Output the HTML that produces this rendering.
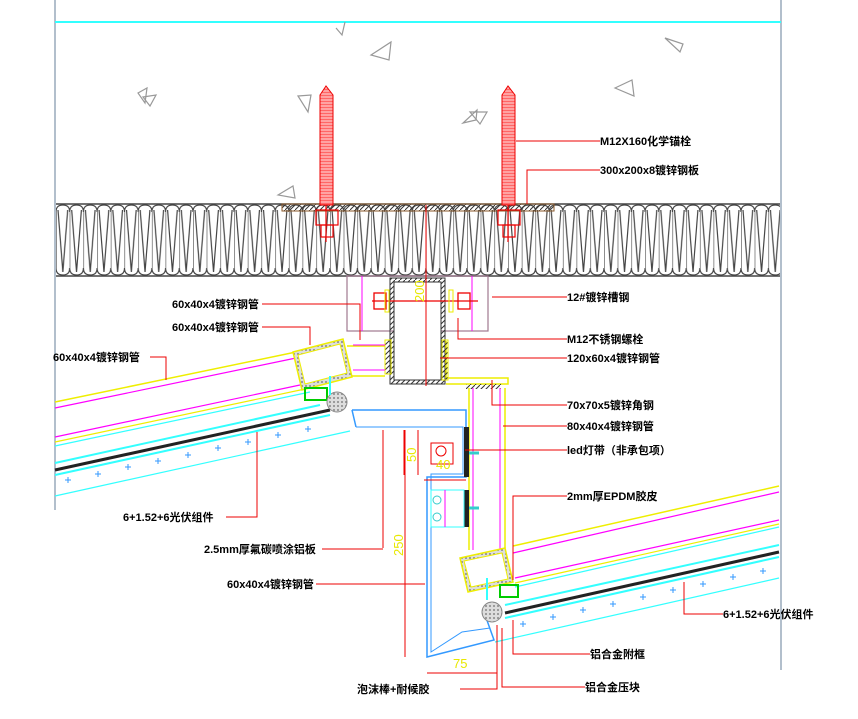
<!DOCTYPE html>
<html><head><meta charset="utf-8"><style>
html,body{margin:0;padding:0;background:#fff;}
svg{display:block}
text{font-family:"Liberation Sans","Noto Sans CJK SC",sans-serif;font-size:11px;font-weight:bold;fill:#000}
.d{font-size:13px;font-weight:normal;fill:#e8e800}
</style></head><body>
<svg width="858" height="719" viewBox="0 0 858 719" xmlns="http://www.w3.org/2000/svg">
<defs>
<pattern id="ins" x="56" y="204" width="13.7" height="72" patternUnits="userSpaceOnUse">
<path d="M0,8 Q0,1 6.85,1 Q13.7,1 13.7,8 M0,64 Q0,71 6.85,71 Q13.7,71 13.7,64 M0,8 L0,64 M2,6 L6.85,68 L11.7,6" fill="none" stroke="#444" stroke-width="1.2"/>
</pattern>
<pattern id="hat" width="5" height="5" patternUnits="userSpaceOnUse"><path d="M0,5 L5,0" stroke="#333" stroke-width="1"/></pattern>
<pattern id="thr" width="13" height="3" patternUnits="userSpaceOnUse"><rect width="13" height="3" fill="#f66"/><line x1="0" y1="1" x2="13" y2="1" stroke="#fff" stroke-width="0.8"/></pattern>
<pattern id="dots" width="4" height="4" patternUnits="userSpaceOnUse"><rect width="4" height="4" fill="#ddd"/><circle cx="2" cy="2" r="1" fill="#888"/></pattern>
</defs>
<!-- borders -->
<line x1="55" y1="0" x2="55" y2="510" stroke="#9ab" stroke-width="1.5"/>
<line x1="781" y1="0" x2="781" y2="670" stroke="#9ab" stroke-width="1.5"/>
<line x1="55" y1="22" x2="781" y2="22" stroke="#3ff" stroke-width="2"/>
<!-- concrete triangles -->
<g fill="none" stroke="#999" stroke-width="1.2">
<path d="M336,28 L342,35 L345,22"/><path d="M371,55 L391,42 L389,60Z"/><path d="M665,38 L683,44 L680,52Z"/>
<path d="M615,88 L632,80 L634,96Z"/><path d="M298,96 L311,95 L308,112Z"/><path d="M463,123 L476,120 L477,110Z"/>
<path d="M470,112 L487,112 L480,124Z"/><path d="M138,93 L147,88 L145,103Z"/><path d="M143,97 L156,95 L150,106Z"/>
<path d="M278,195 L293,186 L295,198Z"/>
</g>
<!-- insulation -->
<rect x="56" y="204" width="724" height="72" fill="url(#ins)"/>
<line x1="56" y1="204" x2="780" y2="204" stroke="#444" stroke-width="1.5"/>
<line x1="56" y1="276" x2="780" y2="276" stroke="#444" stroke-width="1.5"/>
<!-- plate -->
<rect x="282" y="204" width="272" height="7" fill="url(#hat)" stroke="#8b5a2b" stroke-width="1"/>
<!-- anchors -->
<g fill="url(#thr)" stroke="#e00" stroke-width="1">
<path d="M320,95 L326,86 L333,95 L333,205 L320,205Z"/>
<path d="M502,95 L508,86 L515,95 L515,205 L502,205Z"/>
</g>
<g stroke="#e00" fill="none" stroke-width="1.2"><rect x="316" y="210" width="22" height="15"/><rect x="498" y="210" width="22" height="15"/>
<rect x="321" y="225" width="12" height="12"/><rect x="503" y="225" width="12" height="12"/>
<line x1="326" y1="205" x2="326" y2="242"/><line x1="508" y1="205" x2="508" y2="242"/></g>
<!-- bracket -->
<rect x="347" y="276" width="141" height="55" fill="none" stroke="#a07890" stroke-width="1.2"/>
<line x1="362" y1="276" x2="362" y2="331" stroke="#f0f" stroke-width="1"/>
<line x1="472" y1="276" x2="472" y2="331" stroke="#f0f" stroke-width="1"/>
<!-- tube 120x60 -->
<rect x="390" y="278" width="55" height="106" fill="url(#hat)" stroke="#333"/>
<rect x="394" y="282" width="47" height="98" fill="#fff" stroke="#333"/>
<!-- bolt -->
<g stroke="#e00" fill="none" stroke-width="1.3"><line x1="372" y1="301" x2="478" y2="301"/><rect x="374" y="293" width="12" height="16"/><rect x="458" y="293" width="12" height="16"/></g>
<rect x="385" y="290" width="4" height="22" fill="none" stroke="#ee0"/><rect x="449" y="290" width="4" height="22" fill="none" stroke="#ee0"/>
<line x1="426" y1="205" x2="426" y2="386" stroke="#e00"/>
<text class="d" transform="translate(424,302) rotate(-90)">200</text>
<!-- angle steel -->
<path d="M446,341 L446,378 L508,378 L508,384 L446,384" fill="none" stroke="#ee0" stroke-width="1.5"/>
<rect x="466" y="384" width="35" height="5" fill="url(#hat)"/>
<line x1="469" y1="388" x2="469" y2="550" stroke="#ee0" stroke-width="1.5"/><line x1="505" y1="388" x2="505" y2="548" stroke="#ee0" stroke-width="1.5"/>
<line x1="473" y1="388" x2="473" y2="550" stroke="#f0f"/><line x1="500" y1="388" x2="500" y2="550" stroke="#f0f"/>
<rect x="442" y="340" width="6" height="40" fill="url(#hat)" stroke="#ee0"/>
<rect x="385" y="340" width="6" height="34" fill="url(#hat)" stroke="#ee0"/>
<!-- left connecting tube -->
<path d="M347,346 L385,346 M347,376 L385,376" stroke="#ee0" stroke-width="1.5"/>
<path d="M353,345 L385,345 M353,370 L385,370" stroke="#f0f"/>
<!-- left panel -->
<g fill="none">
<line x1="55" y1="402" x2="296" y2="352" stroke="#ee0" stroke-width="1.5"/>
<line x1="55" y1="408" x2="296" y2="358" stroke="#f0f" stroke-width="1.2"/>
<line x1="55" y1="437" x2="300" y2="385" stroke="#f0f" stroke-width="1.2"/>
<line x1="55" y1="442" x2="305" y2="389" stroke="#ee0" stroke-width="1.2"/>
<line x1="55" y1="446" x2="310" y2="392" stroke="#3ff" stroke-width="1.2"/>
<line x1="55" y1="463" x2="320" y2="405" stroke="#3ff" stroke-width="2"/>
<line x1="55" y1="470" x2="330" y2="410" stroke="#222" stroke-width="3"/>
<line x1="55" y1="475" x2="330" y2="415" stroke="#3ff" stroke-width="2"/>
<line x1="55" y1="496" x2="350" y2="431" stroke="#3ff" stroke-width="1.2"/>
</g>
<g stroke="#39f" stroke-width="1"><path d="M65,480h6M68,477v6M95,474h6M98,471v6M125,467h6M128,464v6M155,461h6M158,458v6M185,455h6M188,452v6M215,448h6M218,445v6M245,442h6M248,439v6M275,435h6M278,432v6M305,429h6M308,426v6"/></g>
<!-- left 60x40 tube -->
<path d="M293,352 L343,339 L352,377 L302,390Z" fill="url(#dots)" stroke="#ee0" stroke-width="1.5"/>
<path d="M298,355 L340,344 L347,373 L305,384Z" fill="#fff" stroke="#ee0"/>
<rect x="305" y="388" width="22" height="12" fill="none" stroke="#0c0" stroke-width="2"/>
<circle cx="337" cy="402" r="10" fill="url(#dots)" stroke="#888"/>
<line x1="330" y1="376" x2="330" y2="395" stroke="#3ff" stroke-width="2"/>
<!-- blue plate -->
<path d="M352,410 L466,410 L466,477 L427,477 L427,657 L494,640 L484,612" fill="none" stroke="#39f" stroke-width="1.5"/>
<path d="M356,427 L463,427 L463,474 L431,474 L431,652 L462,632 L490,628" fill="none" stroke="#39f" stroke-width="1"/>
<line x1="352" y1="410" x2="356" y2="427" stroke="#39f" stroke-width="1.5"/>
<rect x="464" y="427" width="5" height="50" fill="#222"/><rect x="464" y="490" width="5" height="37" fill="#222"/>
<rect x="431" y="490" width="33" height="37" fill="none" stroke="#3ff"/>
<line x1="445" y1="490" x2="445" y2="527" stroke="#f0f"/>
<circle cx="437" cy="500" r="4" fill="none" stroke="#3cc"/><circle cx="437" cy="517" r="4" fill="none" stroke="#3cc"/>
<rect x="431" y="443" width="22" height="21" fill="none" stroke="#e00"/><circle cx="441" cy="451" r="5" fill="none" stroke="#e00"/>
<path d="M469,453h10M469,508h10" stroke="#3cc" stroke-width="3"/>
<!-- dims -->
<g stroke="#e00" fill="none" stroke-width="1">
<line x1="404" y1="430" x2="404" y2="475"/><line x1="418" y1="430" x2="418" y2="475"/>
<line x1="424" y1="480" x2="466" y2="480"/>
<line x1="405" y1="430" x2="405" y2="657"/><line x1="383" y1="430" x2="383" y2="548"/>
<line x1="427" y1="673" x2="497" y2="673"/><line x1="497" y1="625" x2="497" y2="673"/>
</g>
<text class="d" transform="translate(416,462) rotate(-90)">50</text>
<text class="d" x="436" y="469">40</text>
<text class="d" transform="translate(403,556) rotate(-90)">250</text>
<text class="d" x="453" y="668">75</text>
<!-- right panel -->
<g fill="none">
<line x1="513" y1="546" x2="779" y2="486" stroke="#ee0" stroke-width="1.5"/>
<line x1="513" y1="553" x2="779" y2="492" stroke="#f0f" stroke-width="1.2"/>
<line x1="515" y1="578" x2="779" y2="520" stroke="#f0f" stroke-width="1.2"/>
<line x1="515" y1="583" x2="779" y2="524" stroke="#ee0" stroke-width="1.2"/>
<line x1="515" y1="587" x2="779" y2="527" stroke="#3ff" stroke-width="1.2"/>
<line x1="505" y1="605" x2="779" y2="545" stroke="#3ff" stroke-width="2"/>
<line x1="505" y1="613" x2="779" y2="552" stroke="#222" stroke-width="3"/>
<line x1="505" y1="618" x2="779" y2="557" stroke="#3ff" stroke-width="2"/>
<line x1="495" y1="642" x2="779" y2="578" stroke="#3ff" stroke-width="1.2"/>
</g>
<g stroke="#39f" stroke-width="1"><path d="M520,624h6M523,621v6M550,617h6M553,614v6M580,610h6M583,607v6M610,604h6M613,601v6M640,597h6M643,594v6M670,590h6M673,587v6M700,584h6M703,581v6M730,577h6M733,574v6M760,571h6M763,568v6"/></g>
<path d="M460,558 L505,548 L513,582 L468,592Z" fill="url(#dots)" stroke="#ee0" stroke-width="1.5"/>
<path d="M464,561 L502,553 L508,579 L471,587Z" fill="#fff" stroke="#ee0"/>
<rect x="500" y="585" width="18" height="12" fill="none" stroke="#0c0" stroke-width="2"/>
<circle cx="492" cy="612" r="10" fill="url(#dots)" stroke="#888"/>
<line x1="487" y1="578" x2="487" y2="600" stroke="#3ff" stroke-width="2"/>
<!-- leaders -->
<g stroke="#e00" fill="none" stroke-width="1">
<path d="M516,141 H600"/><path d="M527,204 V170 H600"/>
<path d="M492,297 H567"/><path d="M458,318 V339 H567"/><path d="M440,358 H567"/>
<path d="M492,380 V405 H567"/><path d="M503,426 H567"/><path d="M465,450 H567"/>
<path d="M513,580 V496 H567"/><path d="M684,582 V614 H723"/>
<path d="M513,620 V654 H590"/><path d="M502,628 V687 H585"/><path d="M460,689 H497 V630"/>
<path d="M322,549 H383"/><path d="M316,584 H425"/>
<path d="M226,517 H257 V432"/>
<path d="M150,357 H166 V380"/>
<path d="M262,304 H360 V340"/><path d="M262,327 H310 V345"/>
</g>
<!-- labels -->
<text x="600" y="145">M12X160化学锚栓</text>
<text x="600" y="174">300x200x8镀锌钢板</text>
<text x="567" y="301">12#镀锌槽钢</text>
<text x="567" y="343">M12不锈钢螺栓</text>
<text x="567" y="362">120x60x4镀锌钢管</text>
<text x="567" y="409">70x70x5镀锌角钢</text>
<text x="567" y="430">80x40x4镀锌钢管</text>
<text x="567" y="454">led灯带（非承包项）</text>
<text x="567" y="500">2mm厚EPDM胶皮</text>
<text x="723" y="618">6+1.52+6光伏组件</text>
<text x="590" y="658">铝合金附框</text>
<text x="585" y="691">铝合金压块</text>
<text x="357" y="693">泡沫棒+耐候胶</text>
<text x="204" y="553">2.5mm厚氟碳喷涂铝板</text>
<text x="227" y="588">60x40x4镀锌钢管</text>
<text x="123" y="521">6+1.52+6光伏组件</text>
<text x="53" y="361">60x40x4镀锌钢管</text>
<text x="172" y="308">60x40x4镀锌钢管</text>
<text x="172" y="331">60x40x4镀锌钢管</text>
</svg>
</body></html>
